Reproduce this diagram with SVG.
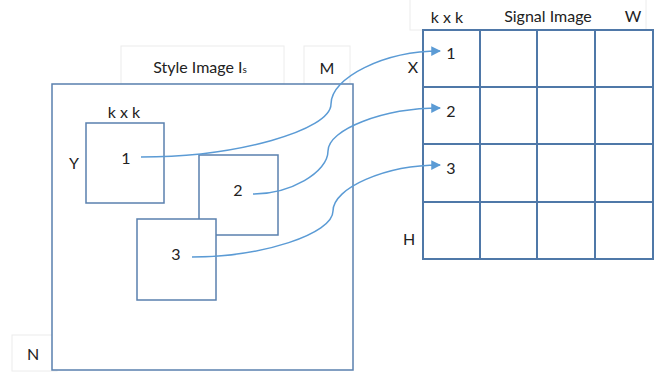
<svg xmlns="http://www.w3.org/2000/svg" width="656" height="372" viewBox="0 0 656 372">
<defs>
<style>
.t{font-family:Lato,"Open Sans","Liberation Sans",sans-serif;font-size:16px;fill:#222;text-anchor:middle;dominant-baseline:central}
.box{fill:#fff;stroke:#5A80AE;stroke-width:1.5}
.faint{fill:#fff;stroke:#ececec;stroke-width:1}
.grid{fill:none;stroke:#4F78A8;stroke-width:2}
.conn{fill:none;stroke:#5B9BD5;stroke-width:1.5;marker-end:url(#arr)}
</style>
<marker id="arr" viewBox="0 0 10 10" refX="9" refY="5" markerWidth="6.5" markerHeight="6.5" orient="auto" markerUnits="strokeWidth">
<path d="M0,0 L10,5 L0,10 z" fill="#5B9BD5"/>
</marker>
</defs>
<rect width="656" height="372" fill="#fff"/>
<g id="style-label">
<rect class="faint" x="121" y="46" width="163" height="38"/>
<text class="t" x="200" y="66">Style Image I<tspan font-size="10" dy="3">s</tspan></text>
</g>
<g id="m-label">
<rect class="faint" x="304" y="46" width="46" height="38"/>
<text class="t" x="327" y="67">M</text>
</g>
<g id="n-label">
<rect class="faint" x="12" y="335" width="45" height="36"/>
<text class="t" x="33" y="353">N</text>
</g>
<g id="style-image">
<rect class="box" x="52" y="84" width="301" height="286"/>
</g>
<g id="patch1">
<text class="t" x="124" y="111">k x k</text>
<text class="t" x="74" y="162">Y</text>
<rect class="box" x="86" y="123" width="78" height="80"/>
<text class="t" x="126" y="157">1</text>
</g>
<g id="patch2">
<rect class="box" x="199" y="155" width="79" height="80"/>
<text class="t" x="238" y="189">2</text>
</g>
<g id="patch3">
<rect class="box" x="137" y="219" width="79" height="81"/>
<text class="t" x="176" y="253">3</text>
</g>
<g id="signal-label">
<rect class="faint" x="410" y="-1" width="236" height="31"/>
<text class="t" x="447" y="16">k x k</text>
<text class="t" x="548" y="15">Signal Image</text>
<text class="t" x="633" y="15">W</text>
</g>
<g id="signal-image">
<rect class="grid" x="423" y="30" width="230" height="229"/>
<path class="grid" d="M480,30V259M537,30V259M595,30V259M423,87H653M423,144H653M423,202H653"/>
<text class="t" x="413" y="66">X</text>
<text class="t" x="409" y="238">H</text>
<text class="t" x="451" y="52">1</text>
<text class="t" x="451" y="110">2</text>
<text class="t" x="451" y="167">3</text>
</g>
<g id="connectors">
<path class="conn" d="M141,157 C236,157 331,130.5 331,104 C331,77.5 384,51 440,51"/>
<path class="conn" d="M253,194 C290,194 328,172.5 328,151 C328,129.5 383,108 440,108"/>
<path class="conn" d="M192,257 C262,257 333,234 333,211 C333,188 385,165 440,165"/>
</g>
</svg>
